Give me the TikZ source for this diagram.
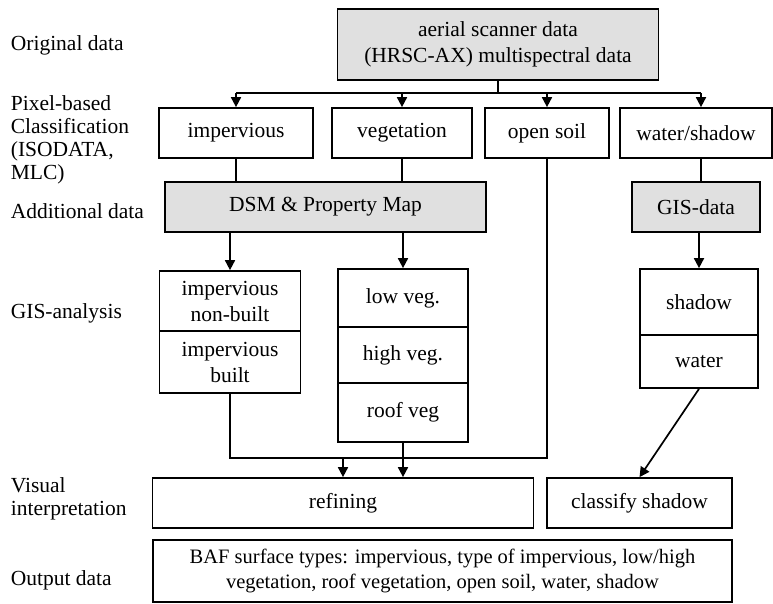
\documentclass[tikz,border=0pt]{standalone}
\usepackage{fontspec}
\setmainfont{Liberation Serif}
\usetikzlibrary{arrows.meta}
\begin{document}
\begin{tikzpicture}[x=1pt,y=-1pt, line width=1.7pt,
  txt/.style={font=\fontsize{21.5}{26}\selectfont},
  box/.style={draw, inner sep=0pt, align=center, txt},
  gbox/.style={box, fill=black!12},
  lbl/.style={anchor=west, align=left, inner sep=0pt, font=\fontsize{21.5}{23}\selectfont},
  arr/.style={-{Triangle[length=10pt,width=10pt]}}]
\useasboundingbox (0,0) rectangle (773,604);
% left labels
\node[lbl] (l1) at (10,45) {Original data};
\node[lbl] (l2) at (10,140) {Pixel-based\\Classification\\(ISODATA,\\MLC)};
\node[lbl] (l3) at (10,211) {Additional data};
\node[lbl] (l4) at (10,313) {GIS-analysis};
\node[lbl] (l5) at (10,499) {Visual\\interpretation};
\node[lbl] (l6) at (10,580) {Output data};
% boxes
\node[gbox, minimum width=321pt, minimum height=71pt] (top) at (498,44.5) {aerial scanner data\\(HRSC-AX) multispectral data};
\node[box, minimum width=154pt, minimum height=50pt] (imp) at (236,133) {impervious};
\node[box, minimum width=140pt, minimum height=50pt] (veg) at (402,133) {vegetation};
\node[box, minimum width=124pt, minimum height=50pt] (soil) at (547,133) {open soil};
\node[box, minimum width=152pt, minimum height=50pt] (ws) at (696,133) {water/shadow};
\node[gbox, minimum width=321pt, minimum height=50pt] (dsm) at (325.5,207) {DSM \& Property Map};
\node[gbox, minimum width=128pt, minimum height=50pt] (gis) at (696,207) {GIS-data};
\node[box, minimum width=141pt, minimum height=60pt] (inb) at (230,301) {impervious\\non-built};
\node[box, minimum width=141pt, minimum height=62pt] (ib) at (230,362) {impervious\\built};
\node[box, minimum width=130pt, minimum height=58pt] (lv) at (403,298) {low veg.};
\node[box, minimum width=130pt, minimum height=56pt] (hv) at (403,355) {high veg.};
\node[box, minimum width=130pt, minimum height=59pt] (rv) at (403,412.5) {roof veg};
\node[box, minimum width=118pt, minimum height=66pt] (sh) at (699,302) {shadow};
\node[box, minimum width=118pt, minimum height=53pt] (wa) at (699,361.5) {water};
\node[box, minimum width=381pt, minimum height=50pt] (ref) at (343,503) {refining};
\node[box, minimum width=185pt, minimum height=50pt] (cls) at (639.5,503) {classify shadow};
\node[box, minimum width=579pt, minimum height=62pt, font=\fontsize{20.5}{25}\selectfont] (out) at (442.5,571) {BAF surface types: impervious, type of impervious, low/high\\vegetation, roof vegetation, open soil, water, shadow};
% connectors
\coordinate (b1) at (236,93);
\coordinate (b4) at (701,93);
\draw (b1) -- (b4);
\draw (top.south) -- (top.south |- b1);
\draw[arr] (b1) -- (imp.north);
\draw[arr] (veg.north |- b1) -- (veg.north);
\draw[arr] (soil.north |- b1) -- (soil.north);
\draw[arr] (b4) -- (b4 |- ws.north);
\draw (imp.south) -- (imp.south |- dsm.north);
\draw (veg.south) -- (veg.south |- dsm.north);
\draw (b4 |- ws.south) -- (b4 |- gis.north);
\draw[arr] (inb.north |- dsm.south) -- (inb.north);
\draw[arr] (lv.north |- dsm.south) -- (lv.north);
\draw[arr] (sh.north |- gis.south) -- (sh.north);
\coordinate (j) at (229,458);
\draw (ib.south) -- (ib.south |- j) -- (ref.north |- j);
\draw (soil.south) -- (soil.south |- j) -- (ref.north |- j);
\draw[arr] (ref.north |- j) -- (ref.north);
\draw[arr] (rv.south) -- (rv.south |- ref.north);
\draw[arr] (wa.south) -- (cls.north);
\end{tikzpicture}
\end{document}
